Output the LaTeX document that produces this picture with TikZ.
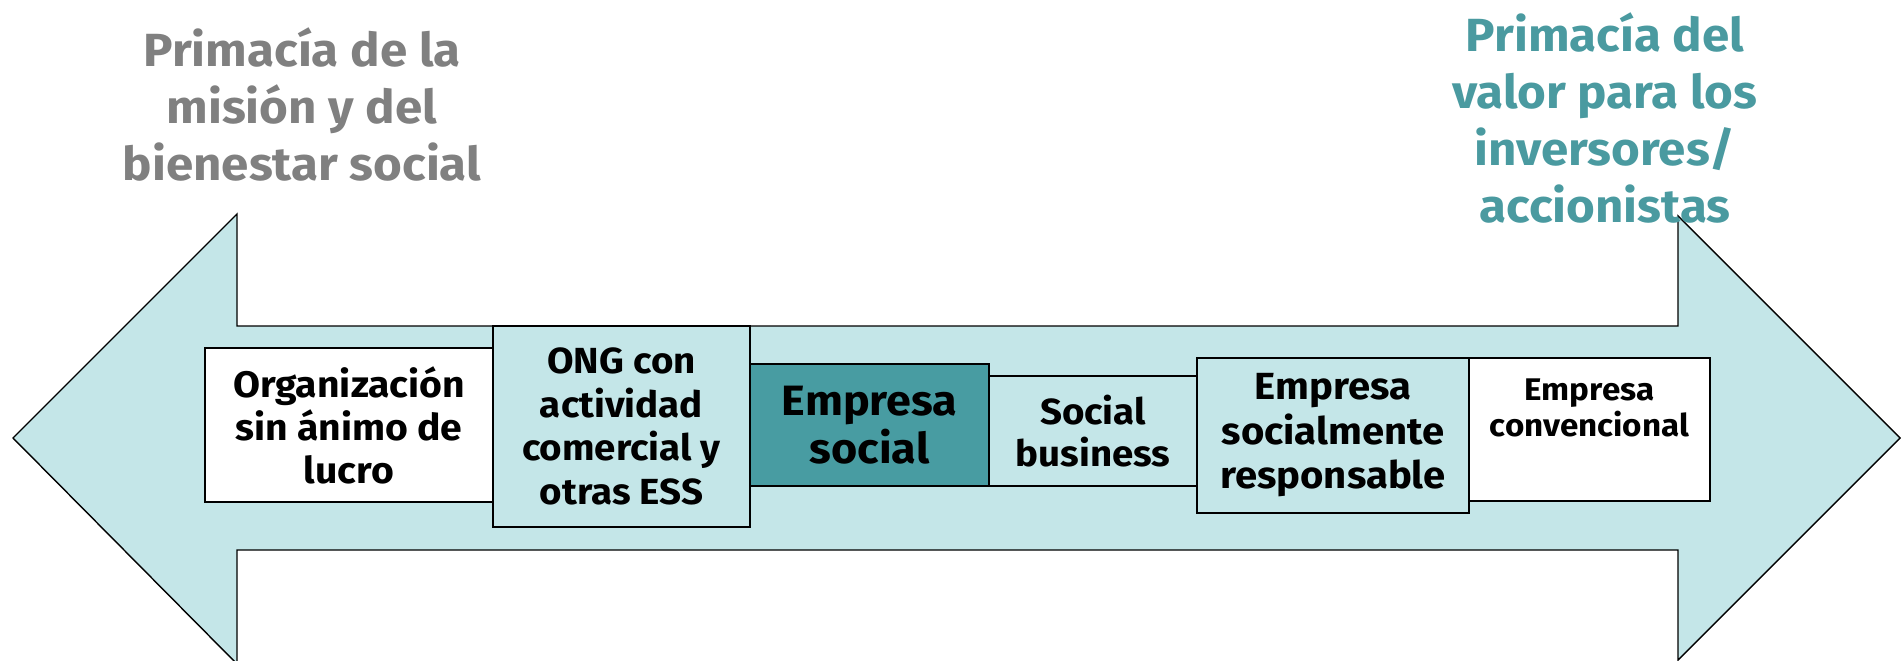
\documentclass[tikz,border=0pt]{standalone}
\usepackage{fontspec}
\setmainfont{Fira Sans}[FakeStretch=1.06]
\definecolor{lightteal}{HTML}{C4E6E8}
\definecolor{darkteal}{HTML}{489CA2}
\definecolor{titleteal}{HTML}{4A9AA0}
\definecolor{titlegray}{HTML}{808080}
\begin{document}
\begin{tikzpicture}[x=1pt,y=-1pt,
  box/.style={draw=black, line width=1.6pt, inner sep=0pt, align=center, font=\bfseries},
  ttl/.style={inner sep=0pt, align=center, font=\bfseries\fontsize{46.5}{57}\selectfont}]
\useasboundingbox (0,0) rectangle (1901,661);
% double arrow
\draw[fill=lightteal, line width=1.4pt, line join=miter]
  (13,438) -- (237,214) -- (237,326) -- (1678,326) -- (1678,216) -- (1900,438)
  -- (1678,660) -- (1678,550) -- (237,550) -- (237,664) -- cycle;
% boxes
\node[box, fill=white, minimum width=288pt, minimum height=154pt,
      font=\bfseries\fontsize{36.9}{43}\selectfont] (b1) at (349,425)
  {Organización\\sin ánimo de\\lucro};
\node[box, fill=lightteal, minimum width=257pt, minimum height=201pt,
      font=\bfseries\fontsize{36.3}{43.5}\selectfont] (b2) at (621.5,426.5)
  {ONG con\\actividad\\comercial y\\otras ESS};
\node[box, fill=darkteal, minimum width=239pt, minimum height=122pt,
      font=\bfseries\fontsize{42.4}{48}\selectfont] (b3) at (869.5,425)
  {Empresa\\social};
\node[box, fill=lightteal, minimum width=208pt, minimum height=110pt,
      font=\bfseries\fontsize{36.3}{42}\selectfont] (b4) at (1093,431)
  {Social\\business};
\node[box, fill=lightteal, minimum width=272pt, minimum height=155pt,
      font=\bfseries\fontsize{37.8}{44.5}\selectfont] (b5) at (1333,435.5)
  {Empresa\\socialmente\\responsable};
\node[box, fill=white, minimum width=241pt, minimum height=143pt] (b6) at (1589.5,429.5) {};
\node[inner sep=0pt, align=center, anchor=north,
      font=\bfseries\fontsize{31.3}{36}\selectfont] (t6) at ([yshift=-21pt]b6.north)
  {Empresa\\convencional};
% titles
\node[ttl, text=titlegray] (tl) at (302,104.5)
  {Primacía de la\\misión y del\\bienestar social};
\node[ttl, text=titleteal] (tr) at (1605,117.5)
  {Primacía del\\valor para los\\inversores/\\accionistas};
\end{tikzpicture}
\end{document}
